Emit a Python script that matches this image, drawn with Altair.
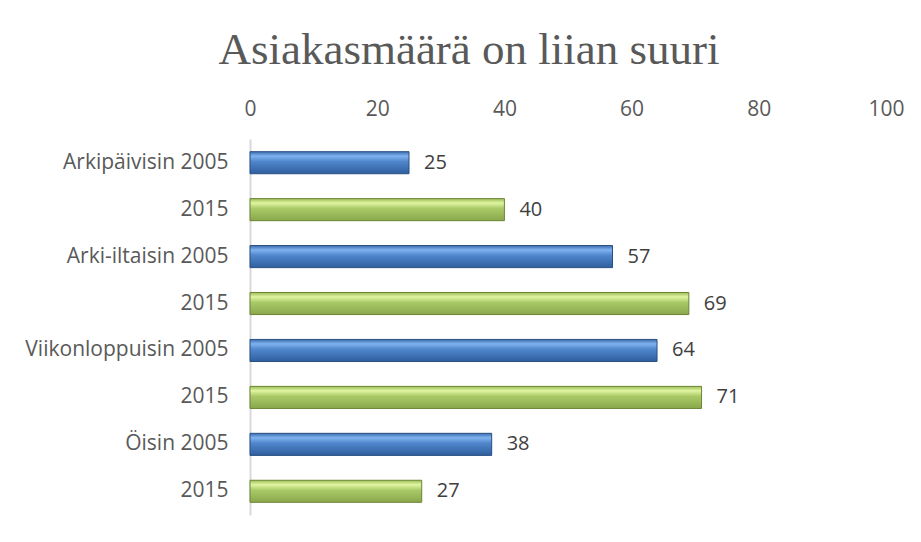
import altair as alt
import pandas as pd

labels = ["Arkipäivisin 2005", "2015", "Arki-iltaisin 2005", "2015",
          "Viikonloppuisin 2005", "2015", "Öisin 2005", "2015"]
values = [25, 40, 57, 69, 64, 71, 38, 27]
years = ["2005", "2015", "2005", "2015", "2005", "2015", "2005", "2015"]
x_ticks = [0, 20, 40, 60, 80, 100]

df = pd.DataFrame({"idx": list(range(len(labels))), "label": labels,
                   "value": values, "year": years})

label_expr = "[" + ",".join("'" + l + "'" for l in labels) + "][datum.value]"

blue_grad = {"gradient": "linear", "x1": 0, "y1": 0, "x2": 0, "y2": 1,
             "stops": [{"offset": 0, "color": "#3c6db0"},
                       {"offset": 0.2, "color": "#7fb2ee"},
                       {"offset": 0.45, "color": "#4f86cc"},
                       {"offset": 1, "color": "#2f5f9e"}]}
green_grad = {"gradient": "linear", "x1": 0, "y1": 0, "x2": 0, "y2": 1,
              "stops": [{"offset": 0, "color": "#9dbd5a"},
                        {"offset": 0.2, "color": "#e0f5a0"},
                        {"offset": 0.45, "color": "#a9c967"},
                        {"offset": 1, "color": "#8aa84c"}]}

FS = 20
y_enc = alt.Y("idx:O", title=None,
              axis=alt.Axis(labelExpr=label_expr, labelFont="Open Sans",
                            labelFontSize=21, labelColor="#595959",
                            labelPadding=22, ticks=False, domain=True,
                            domainColor="#d9d9d9", domainWidth=2,
                            labelLimit=300),
              scale=alt.Scale(paddingInner=0.53, paddingOuter=0.27))
x_enc = alt.X("value:Q", title=None,
              scale=alt.Scale(domain=[0, 100]),
              axis=alt.Axis(orient="top", values=x_ticks, labelFont="Open Sans",
                            labelFontSize=21, labelColor="#595959",
                            labelPadding=20, ticks=False, domain=False,
                            grid=False, labelFlush=False))

base = alt.Chart(df)

blue = base.transform_filter(alt.datum.year == "2005").mark_bar(
    fill=blue_grad, stroke="#2a4f80", strokeWidth=1
).encode(x=x_enc, y=y_enc)

green = base.transform_filter(alt.datum.year == "2015").mark_bar(
    fill=green_grad, stroke="#6b8535", strokeWidth=1
).encode(x=x_enc, y=y_enc)

text = base.mark_text(align="left", baseline="middle", dx=15,
                      font="Open Sans", fontSize=FS, color="#404040").encode(
    x="value:Q", y=alt.Y("idx:O"), text="value:Q")

chart = alt.layer(blue, green, text).properties(
    width=636, height=376,
    padding={"left": 242, "top": 131, "right": 20, "bottom": 10},
    autosize=alt.AutoSizeParams(type="none"),
    background="white",
    title=alt.TitleParams("Asiakasmäärä on liian suuri", font="Liberation Serif",
                          fontSize=45, fontWeight="normal", color="#595959",
                          anchor="middle", offset=25, dx=-99),
).configure_view(stroke=None)

chart.save("out.html", embed_options={"renderer": "svg", "actions": False})
